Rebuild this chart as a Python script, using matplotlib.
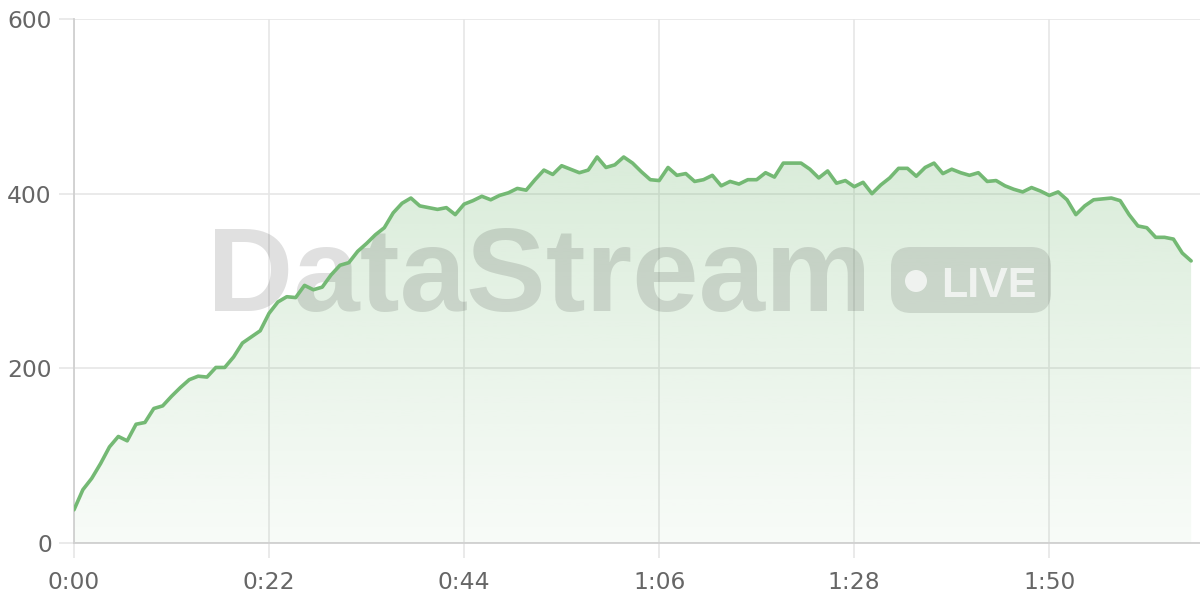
import numpy as np
import matplotlib
matplotlib.use('Agg')
import matplotlib.pyplot as plt
from matplotlib.patches import FancyBboxPatch, Circle
from matplotlib.transforms import IdentityTransform

# one reading per second, 0:00 .. 2:06
values = [38, 61, 74, 91, 110, 122, 117, 136, 138, 154,
          157, 168, 178, 187, 191, 190, 201, 201, 213, 229,
          236, 243, 263, 276, 282, 281, 295, 290, 293, 307,
          318, 321, 334, 343, 353, 361, 378, 389, 395, 386,
          384, 382, 384, 376, 388, 392, 397, 393, 398, 401,
          406, 404, 416, 427, 422, 432, 428, 424, 427, 442,
          430, 433, 442, 435, 425, 416, 415, 430, 421, 423,
          414, 416, 421, 409, 414, 411, 416, 416, 424, 419,
          435, 435, 435, 428, 418, 426, 412, 415, 408, 413,
          400, 410, 418, 429, 429, 420, 430, 435, 423, 428,
          424, 421, 424, 414, 415, 409, 405, 402, 407, 403,
          398, 402, 393, 376, 386, 393, 394, 395, 392, 376,
          363, 361, 350, 350, 348, 332, 323]
seconds = np.arange(len(values))
x_ticks = [0, 22, 44, 66, 88, 110]
x_labels = ['0:00', '0:22', '0:44', '1:06', '1:28', '1:50']
y_ticks = [0, 200, 400, 600]

line_color = '#74b974'
grid_color = '#e6e6e6'

plt.rcParams['font.family'] = ['DejaVu Sans']

fig = plt.figure(figsize=(12, 6), dpi=100)
ax = fig.add_axes([74 / 1200, 57 / 600, 1126 / 1200, 524 / 600])
ax.set_xlim(0, 127)
ax.set_ylim(0, 600)

# gradient area under the line
top = max(values)
grad = np.zeros((256, 1, 4))
grad[:, 0, :3] = matplotlib.colors.to_rgb(line_color)
grad[:, 0, 3] = np.linspace(0.27, 0.05, 256)
poly = ax.fill_between(seconds, values, 0, color='none', lw=0)
img = ax.imshow(grad, extent=[0, seconds[-1], 0, top], aspect='auto',
                origin='upper', zorder=1)
img.set_clip_path(poly.get_paths()[0], transform=ax.transData)

ax.plot(seconds, values, color=line_color, lw=2.6, zorder=4,
        solid_joinstyle='round', solid_capstyle='round')

# watermark (pixel coords, origin bottom-left), under the line
px = IdentityTransform()
ax.text(207, 289, 'DataStream', transform=px,
        fontsize=86, fontweight='bold', family='Liberation Sans',
        color='black', alpha=0.12, ha='left', va='baseline', zorder=3)
ax.add_patch(FancyBboxPatch((891, 287), 160, 66,
                            boxstyle='round,pad=0,rounding_size=20',
                            transform=px, facecolor='black', alpha=0.11,
                            lw=0, zorder=3, clip_on=False))
ax.add_patch(Circle((916, 319), 11, transform=px, facecolor='white',
                    alpha=0.7, lw=0, zorder=3, clip_on=False))
ax.text(941, 303, 'LIVE', transform=px,
        fontsize=31, fontweight='bold', family='Liberation Sans',
        color='white', alpha=0.7, ha='left', va='baseline', zorder=3)

ax.set_xticks(x_ticks)
ax.set_xticklabels(x_labels)
ax.set_yticks(y_ticks)
ax.grid(True, color=grid_color, lw=1.2, zorder=0)
ax.set_axisbelow(True)
for side in ['top', 'right']:
    ax.spines[side].set_visible(False)
for side in ['left', 'bottom']:
    ax.spines[side].set_color('#d0d0d0')
    ax.spines[side].set_linewidth(1.3)
ax.tick_params(axis='both', length=11, width=1.2, color=grid_color,
               labelsize=16.8, labelcolor='#666666')
ax.tick_params(axis='y', pad=5)
ax.tick_params(axis='x', pad=9)

fig.savefig('out.png', dpi=100)
